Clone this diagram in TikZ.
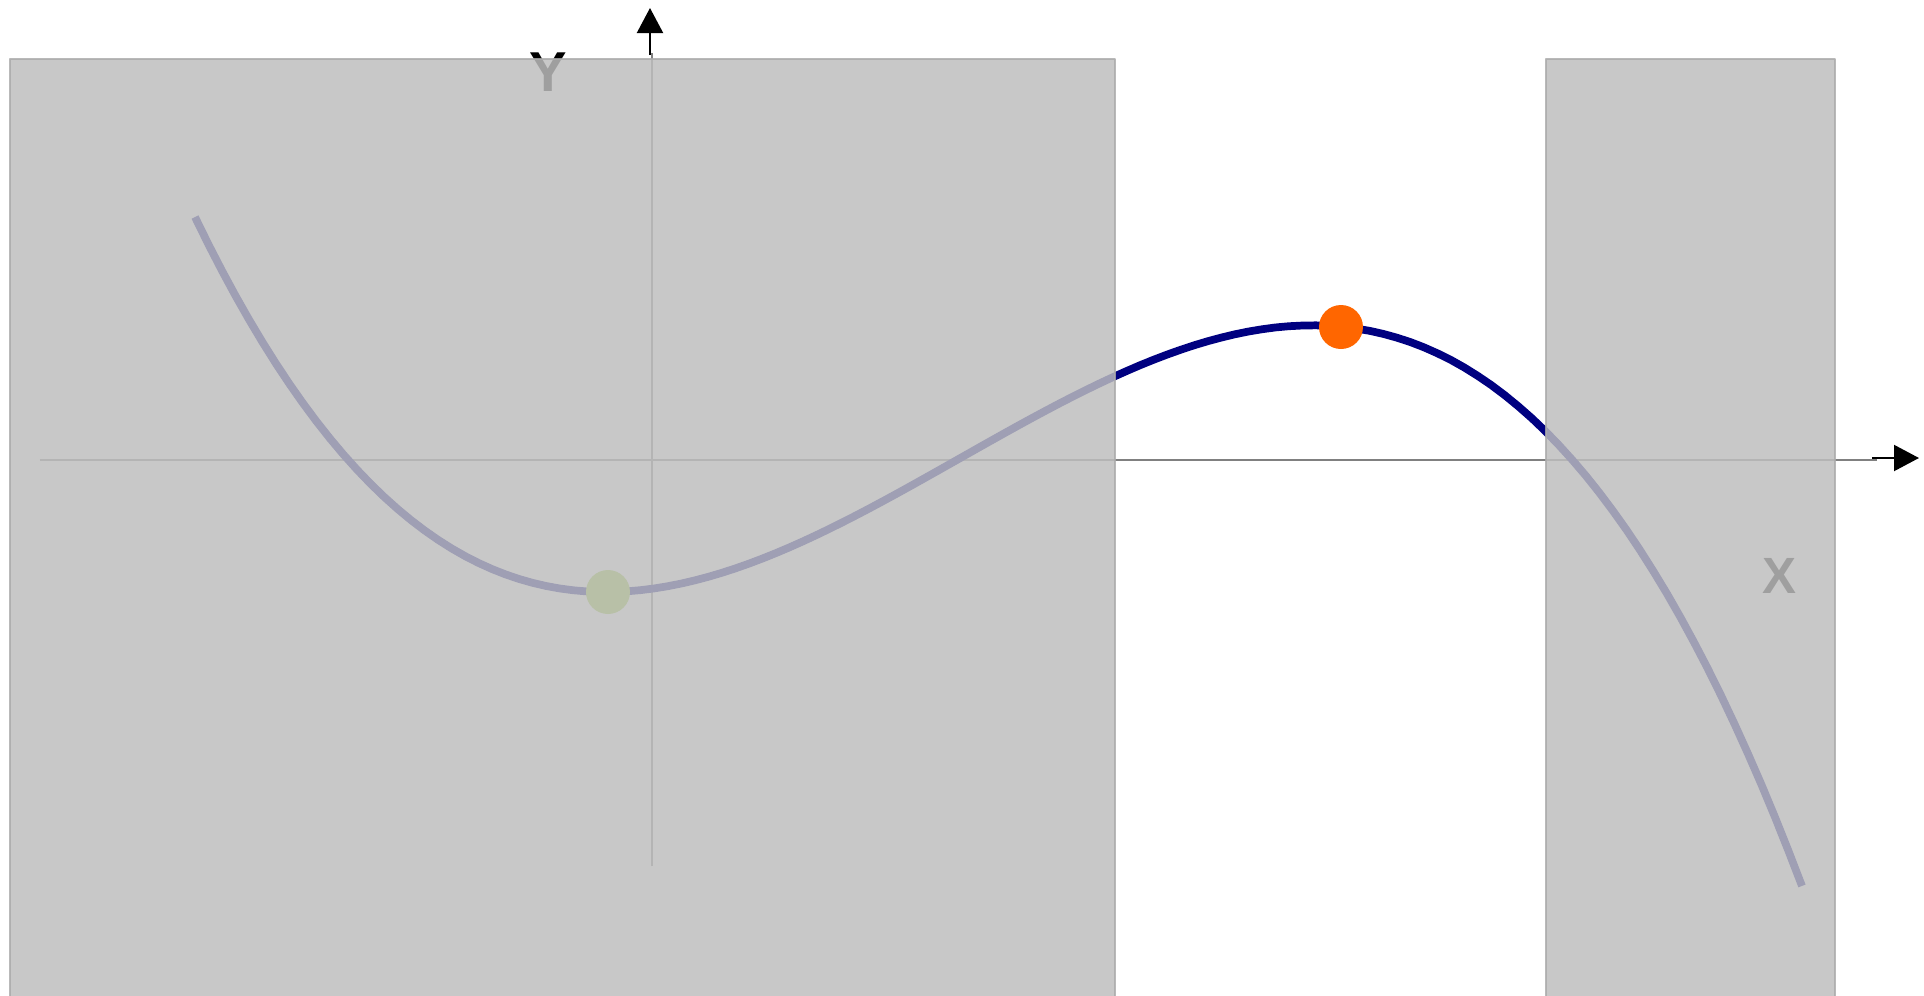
\documentclass[tikz,border=0pt]{standalone}
\usepackage{fontspec}
\setmainfont{Liberation Sans}
\usetikzlibrary{arrows.meta}
\definecolor{navy}{HTML}{000080}
\definecolor{dotorange}{HTML}{FF6600}
\definecolor{dotgreen}{HTML}{99CC33}
\definecolor{shade}{HTML}{BEBEBE}
\definecolor{axisgray}{HTML}{808080}
\begin{document}
\begin{tikzpicture}[line join=round, >={Triangle[length=0.25cm,width=0.26cm]},
  declare function={f(\x)=-0.015112*\x*\x*\x+0.1392*\x*\x+0.13831*\x-1.2874;},
  mask/.style={fill=shade, fill opacity=0.84, draw=shade!90!black, draw opacity=0.84, line width=0.6pt},
  axislabel/.style={font=\bfseries\fontsize{16}{16}\selectfont, text=black, inner sep=0pt},
  dot/.style={circle, inner sep=0pt, minimum size=0.44cm}]
\useasboundingbox (-6.52,-5.35) rectangle (12.72,4.60);
\coordinate (O) at (0,0);
\coordinate (XL) at (-6.12,0);
\coordinate (XR) at (12.25,0);
\coordinate (YB) at (0,-4.06);
\coordinate (YT) at (0,4.07);
\coordinate (XA) at (12.2,0.02);
\coordinate (XH) at (12.67,0.02);
\coordinate (YA) at (-0.02,4.05);
\coordinate (YH) at (-0.02,4.52);
% axes
\draw[axisgray, line width=0.6pt] (XL) -- (XR);
\draw[axisgray, line width=0.6pt] (YB) -- (YT);
% curve
\draw[navy, line width=2.2pt, domain=-4.57:11.5, samples=120] plot (\x, {f(\x)});
\node[dot, fill=dotgreen] (low) at (-0.44,-1.32) {};
\node[dot, fill=dotorange] (high) at (6.89,1.33) {};
\node[axislabel] (ylab) at (-1.04,3.88) {Y};
\node[axislabel, font=\bfseries\fontsize{14.5}{14.5}\selectfont] (xlab) at (11.27,-1.16) {X};
% shaded parts
\draw[mask] (-6.42,-5.4) rectangle (4.63,4.01);
\draw[mask] (8.94,-5.4) rectangle (11.83,4.01);
\draw[->, line width=0.6pt] (XA) -- (XH);
\draw[->, line width=0.6pt] (YA) -- (YH);
\end{tikzpicture}
\end{document}
